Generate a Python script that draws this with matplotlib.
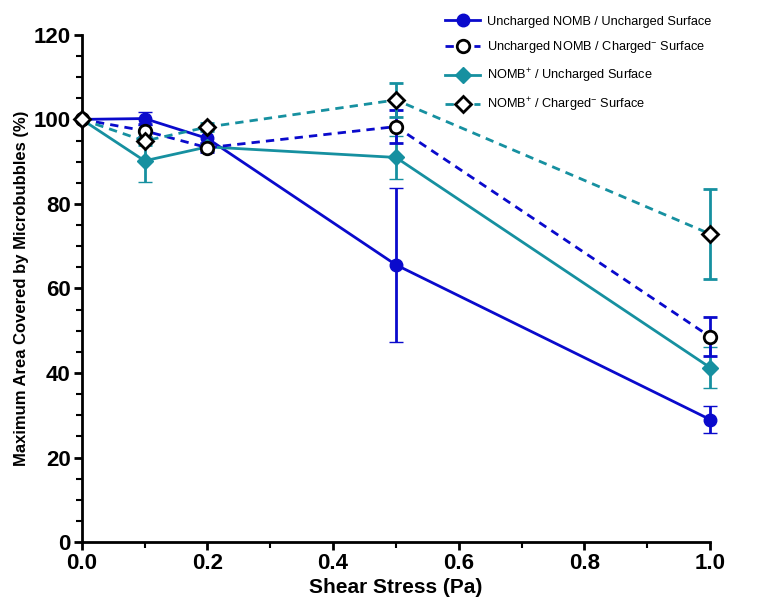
import matplotlib
matplotlib.use("Agg")
import matplotlib.pyplot as plt
from matplotlib.lines import Line2D
from matplotlib import font_manager as fm
import numpy as np

shear = [0.0, 0.1, 0.2, 0.5, 1.0]

unc_unc = [100, 100.2, 95.5, 65.6, 29.0]
unc_unc_err = [0, 1.5, 2.0, 18.2, 3.3]

unc_chg = [100, 97.3, 93.3, 98.3, 48.6]
unc_chg_err = [0, 1.5, 1.0, 4.0, 4.6]

pos_unc = [100, 90.2, 93.5, 91.0, 41.3]
pos_unc_err = [0, 5.0, 1.0, 5.0, 4.9]

pos_chg = [100, 94.9, 98.2, 104.6, 72.9]
pos_chg_err = [0, 1.0, 1.0, 4.1, 10.6]

labels = [
    "Uncharged NOMB / Uncharged Surface",
    r"Uncharged NOMB / Charged$^{-}$ Surface",
    r"NOMB$^{+}$ / Uncharged Surface",
    r"NOMB$^{+}$ / Charged$^{-}$ Surface",
]

names = {f.name for f in fm.fontManager.ttflist}
narrow = "Liberation Sans Narrow" if "Liberation Sans Narrow" in names else "Liberation Sans"

plt.rcParams['font.family'] = ['Liberation Sans', 'DejaVu Sans']
plt.rcParams['mathtext.fontset'] = 'custom'
plt.rcParams['mathtext.rm'] = 'Liberation Sans'
plt.rcParams['mathtext.it'] = 'Liberation Sans'
plt.rcParams['mathtext.bf'] = 'Liberation Sans:bold'

BLUE = '#0a0acc'
TEAL = '#1690a0'
DASH = (0, (3, 2.2))

fig = plt.figure(figsize=(7.57, 6.01), dpi=100)
ax = fig.add_axes([0.108, 0.098, 0.830, 0.844])

common = dict(capsize=5, elinewidth=2, capthick=2, lw=2)
specs = [
    (unc_unc, unc_unc_err, BLUE, 'o', '-', BLUE, BLUE, 9, 3),
    (unc_chg, unc_chg_err, BLUE, 'o', DASH, 'white', 'black', 9, 4),
    (pos_unc, pos_unc_err, TEAL, 'D', '-', TEAL, TEAL, 8, 3),
    (pos_chg, pos_chg_err, TEAL, 'D', DASH, 'white', 'black', 8, 4),
]
handles = []
for (y, e, c, m, ls, fc, ec, ms, z), lab in zip(specs, labels):
    cont = ax.errorbar(shear, y, yerr=e, color=c, marker=m, ls=ls, mfc=fc, mec=ec,
                       mew=2 if fc == 'white' else 1, markersize=ms, zorder=z, **common)
    for art in cont.get_children():
        art.set_clip_on(False)
    handles.append(Line2D([], [], color=c, marker=m, ls=ls, lw=2, mfc=fc, mec=ec,
                          mew=2 if fc == 'white' else 1, markersize=ms))

ax.set_xlim(0, 1.0)
ax.set_ylim(0, 120)
ax.set_xticks(np.arange(0, 1.01, 0.2))
ax.set_xticks(np.arange(0, 1.01, 0.1), minor=True)
ax.set_yticks(np.arange(0, 121, 20))
ax.set_yticks(np.arange(0, 121, 5), minor=True)
ax.set_xticklabels([f"{v:.1f}" for v in np.arange(0, 1.01, 0.2)])

for s in ['top', 'right']:
    ax.spines[s].set_visible(False)
for s in ['left', 'bottom']:
    ax.spines[s].set_linewidth(2)
ax.tick_params(which='major', length=6, width=2, direction='out', pad=2)
ax.tick_params(which='minor', length=4, width=1.5, direction='out')
for lab in ax.get_xticklabels() + ax.get_yticklabels():
    lab.set_fontfamily(narrow)
    lab.set_fontweight('bold')
    lab.set_fontsize(16)

ax.set_xlabel("Shear Stress (Pa)", fontsize=15, fontweight='bold', family=narrow, labelpad=3)
ax.set_ylabel("Maximum Area Covered by Microbubbles (%)", fontsize=12, fontweight='bold', labelpad=3)

leg = fig.legend(handles, labels, loc='upper left', bbox_to_anchor=(0.573, 0.993),
                 frameon=False, fontsize=9.2, handlelength=2.7, handletextpad=0.6,
                 labelspacing=0.9)

fig.savefig("out.png", dpi=100)
